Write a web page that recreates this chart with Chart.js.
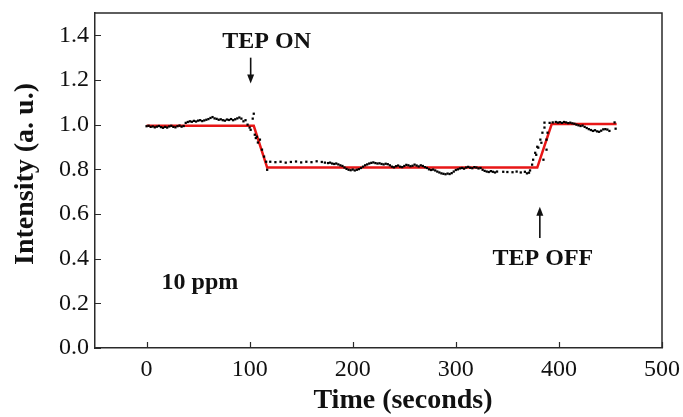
<!DOCTYPE html>
<html>
<head>
<meta charset="utf-8">
<script src="https://cdn.jsdelivr.net/npm/chart.js@4.4.0/dist/chart.umd.min.js"></script>
<style>
  html, body { margin: 0; padding: 0; background: #fff; }
</style>
</head>
<body>
<canvas id="chart" width="683" height="417"></canvas>
<script>
const timeSec = [
  0,2,4,6,8,10,12,14,16,18,20,22,24,26,28,30,32,34,36,
  38,40,42,44,46,48,50,52,54,56,58,60,62,64,66,68,70,72,74,76,78,80,82,84,86,88,90,92,94,96,
  98,100,101,103,104,105,106,107,108,110,112,114,116,117,
  120,125,130,135,140,145,150,155,160,165,170,173,
  176,178,180,182,184,186,188,190,
  192,194,196,198,200,202,204,206,208,210,
  212,214,216,218,220,222,224,226,228,230,232,234,
  236,238,240,242,244,246,248,250,252,254,256,258,260,262,264,266,268,270,
  272,274,276,278,280,282,284,286,288,290,292,294,296,298,300,
  302,304,306,308,310,312,314,316,318,320,322,324,
  326,328,330,332,334,336,338,340,
  346,350,355,359,363,367,369,371,372,
  374,375,377,378,379,380,382,383,384,385,386,386,388,388,389,
  391,394,397,399,401,403,405,407,409,411,413,415,417,419,421,423,425,427,429,431,433,435,437,439,441,443,445,447,449,454,455
];
const intensity = [
  0.993,0.995,0.990,0.992,0.988,0.991,0.994,0.989,0.986,0.990,0.987,0.992,0.995,0.990,0.988,0.993,0.996,0.991,0.994,
  1.008,1.012,1.015,1.013,1.017,1.014,1.018,1.020,1.016,1.019,1.022,1.025,1.030,1.034,1.028,1.026,1.022,1.024,1.020,1.018,1.023,1.021,1.025,1.020,1.024,1.028,1.032,1.027,1.015,1.020,
  1.000,0.987,0.977,1.027,1.049,0.955,0.940,0.946,0.920,0.933,0.888,0.857,0.834,0.798,
  0.834,0.832,0.834,0.830,0.833,0.835,0.831,0.834,0.832,0.836,0.833,0.830,
  0.828,0.830,0.826,0.824,0.826,0.822,0.818,0.815,
  0.808,0.802,0.798,0.796,0.799,0.795,0.798,0.801,0.806,0.812,
  0.818,0.822,0.826,0.829,0.831,0.828,0.826,0.827,0.824,0.822,0.825,0.823,
  0.818,0.812,0.809,0.814,0.817,0.812,0.810,0.815,0.820,0.818,0.814,0.816,0.821,0.817,0.813,0.818,0.815,0.810,
  0.806,0.800,0.797,0.799,0.795,0.790,0.786,0.782,0.780,0.778,0.781,0.779,0.783,0.790,0.797,
  0.800,0.804,0.806,0.803,0.808,0.811,0.807,0.805,0.810,0.808,0.804,0.806,
  0.798,0.793,0.790,0.788,0.792,0.789,0.786,0.790,
  0.789,0.788,0.787,0.790,0.786,0.789,0.782,0.785,0.795,
  0.821,0.843,0.874,0.865,0.901,0.897,0.933,0.919,0.964,0.843,0.987,1.009,0.933,0.888,0.964,
  1.008,1.010,1.012,1.009,1.011,1.008,1.012,1.010,1.007,1.009,1.006,1.004,1.000,0.997,0.994,0.996,0.990,0.985,0.980,0.976,0.972,0.975,0.970,0.968,0.973,0.979,0.980,0.978,0.972,1.010,0.982
];

// red step fit
const fitTime = [0, 104, 117, 379, 393, 456];
const fitLevel = [0.995, 0.995, 0.808, 0.808, 1.003, 1.003];

const xTicks = [0, 100, 200, 300, 400, 500];
const yTicks = [0, 0.2, 0.4, 0.6, 0.8, 1.0, 1.2, 1.4];

const xTitle = 'Time (seconds)';
const yTitle = 'Intensity (a. u.)';
const noteLabels = ['TEP ON', 'TEP OFF', '10 ppm'];

const SERIF = '"Liberation Serif", "Times New Roman", serif';
const AXIS = '#2a2a2a';

const dots = timeSec.map((t, i) => ({ x: t, y: intensity[i] }));
const fit = fitTime.map((t, i) => ({ x: t, y: fitLevel[i] }));

const decor = {
  id: 'decor',
  afterDraw(chart) {
    const { ctx, chartArea: a, scales: { x, y } } = chart;
    ctx.save();
    // frame top and right
    ctx.strokeStyle = AXIS;
    ctx.lineWidth = 1.5;
    ctx.beginPath();
    ctx.moveTo(a.left, a.top);
    ctx.lineTo(a.right, a.top);
    ctx.lineTo(a.right, a.bottom);
    ctx.stroke();
    // inward ticks
    ctx.lineWidth = 1.2;
    ctx.beginPath();
    xTicks.forEach(v => {
      const px = Math.round(x.getPixelForValue(v)) + 0.5;
      ctx.moveTo(px, a.bottom);
      ctx.lineTo(px, a.bottom - 6);
    });
    yTicks.forEach(v => {
      const py = Math.round(y.getPixelForValue(v)) + 0.5;
      ctx.moveTo(a.left, py);
      ctx.lineTo(a.left + 6, py);
    });
    ctx.stroke();

    // annotations
    ctx.fillStyle = '#111';
    ctx.font = 'bold 24px ' + SERIF;
    ctx.textBaseline = 'middle';
    ctx.textAlign = 'center';
    ctx.fillText(noteLabels[0], x.getPixelForValue(116.5), y.getPixelForValue(1.372));
    ctx.fillText(noteLabels[1], x.getPixelForValue(384.5), y.getPixelForValue(0.40));
    ctx.textAlign = 'left';
    ctx.fillText(noteLabels[2], x.getPixelForValue(14.6), y.getPixelForValue(0.29));

    // arrows
    const arrow = (xv, y0, y1) => {
      const px = x.getPixelForValue(xv);
      const p0 = y.getPixelForValue(y0), p1 = y.getPixelForValue(y1);
      const dir = p1 > p0 ? 1 : -1;
      ctx.strokeStyle = '#111';
      ctx.lineWidth = 1.6;
      ctx.beginPath();
      ctx.moveTo(px, p0);
      ctx.lineTo(px, p1 - dir * 6);
      ctx.stroke();
      ctx.beginPath();
      ctx.moveTo(px, p1);
      ctx.lineTo(px - 3.5, p1 - dir * 9);
      ctx.lineTo(px + 3.5, p1 - dir * 9);
      ctx.closePath();
      ctx.fill();
    };
    arrow(101, 1.30, 1.184);
    arrow(381.5, 0.493, 0.632);

    // axis titles
    ctx.font = 'bold 28px ' + SERIF;
    ctx.textAlign = 'center';
    ctx.fillText(xTitle, 403, 401);
    ctx.translate(26, 174);
    ctx.rotate(-Math.PI / 2);
    ctx.fillText(yTitle, 0, 0);
    ctx.restore();
  }
};

new Chart(document.getElementById('chart'), {
  type: 'scatter',
  data: {
    datasets: [
      {
        label: 'fit',
        data: fit,
        showLine: true,
        borderColor: 'rgb(232,22,22)',
        borderWidth: 2.5,
        pointRadius: 0,
        tension: 0,
        order: 2
      },
      {
        label: 'data',
        data: dots,
        pointStyle: 'rect',
        pointRadius: 1.6,
        backgroundColor: '#000',
        borderColor: '#000',
        borderWidth: 0,
        order: 1
      }
    ]
  },
  options: {
    responsive: false,
    animation: false,
    layout: { padding: { top: 13, right: 21, left: 0, bottom: 0 } },
    plugins: { legend: { display: false }, tooltip: { enabled: false } },
    scales: {
      x: {
        type: 'linear',
        min: -50,
        max: 500,
        afterBuildTicks: s => { s.ticks = xTicks.map(v => ({ value: v })); },
        afterFit: s => { s.height = 69; s.paddingLeft = 0; s.paddingRight = 0; },
        grid: { display: false, drawTicks: false },
        border: { display: true, color: AXIS, width: 1.5 },
        ticks: {
          color: '#111',
          font: { family: SERIF, size: 24 },
          padding: 7,
          maxRotation: 0,
          callback: v => String(v)
        }
      },
      y: {
        min: 0,
        max: 1.5,
        afterBuildTicks: s => { s.ticks = yTicks.map(v => ({ value: v })); },
        afterFit: s => { s.width = 95; s.paddingTop = 0; s.paddingBottom = 0; },
        grid: { display: false, drawTicks: false },
        border: { display: true, color: AXIS, width: 1.5 },
        ticks: {
          color: '#111',
          font: { family: SERIF, size: 24 },
          padding: 6,
          callback: v => Number(v).toFixed(1)
        }
      }
    }
  },
  plugins: [decor]
});
</script>
</body>
</html>
